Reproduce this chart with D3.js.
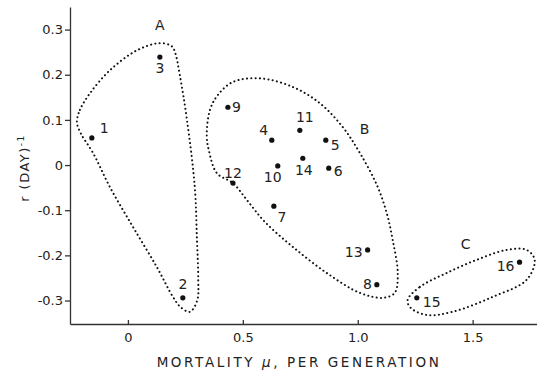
<!DOCTYPE html>
<html><head><meta charset="utf-8">
<script src="https://cdn.jsdelivr.net/npm/d3@7"></script>
<style>body{margin:0;background:#fff}svg{display:block}text{font-family:"DejaVu Sans",sans-serif;fill:#222}</style>
</head><body><svg id="c" width="537" height="371"></svg>
<script>
// Data: mortality μ per generation, r (day)^-1
const ids = ["1","2","3","4","5","6","7","8","9","10","11","12","13","14","15","16"];
const mu  = [-0.157,0.239,0.139,0.626,0.861,0.874,0.635,1.083,0.435,0.652,0.748,0.457,1.043,0.761,1.257,1.704];
const rr  = [0.060,-0.294,0.239,0.055,0.055,-0.007,-0.091,-0.265,0.128,-0.002,0.077,-0.040,-0.188,0.015,-0.294,-0.215];
const xTicks = [0,0.5,1.0,1.5];
const xTickLabels = ["0","0.5","1.0","1.5"];
const yTicks = [0.3,0.2,0.1,0,-0.1,-0.2,-0.3];
const yTickLabels = ["0.3","0.2","0.1","0","-0.1","-0.2","-0.3"];
const groupNames = ["A","B","C"];
// group outlines (μ, r)
const groupA = [[-0.222,0.095],[-0.209,0.122],[-0.165,0.159],[-0.078,0.210],[0.039,0.254],[0.139,0.270],[0.191,0.263],[0.206,0.248],[0.226,0.199],[0.257,0.100],[0.291,-0.049],[0.300,-0.159],[0.306,-0.254],[0.302,-0.299],[0.270,-0.325],[0.230,-0.315],[0.196,-0.292],[0.126,-0.226],[0.022,-0.137],[-0.078,-0.049],[-0.152,0.027],[-0.205,0.070]];
const groupB = [[0.343,0.066],[0.357,0.122],[0.391,0.155],[0.457,0.184],[0.574,0.192],[0.717,0.173],[0.835,0.137],[0.935,0.084],[1.009,0.027],[1.083,-0.044],[1.126,-0.106],[1.152,-0.166],[1.174,-0.239],[1.161,-0.283],[1.109,-0.294],[1.009,-0.283],[0.865,-0.239],[0.717,-0.181],[0.596,-0.126],[0.517,-0.077],[0.457,-0.040],[0.387,-0.018],[0.352,0.033]];
const groupC = [[1.217,-0.299],[1.270,-0.270],[1.387,-0.239],[1.517,-0.210],[1.648,-0.188],[1.735,-0.188],[1.770,-0.210],[1.735,-0.254],[1.587,-0.292],[1.413,-0.325],[1.300,-0.332],[1.230,-0.316]];
const groupLabelPos = [[0.139,0.300],[1.030,0.068],[1.470,-0.187]];
// point label offsets in px (dx, dy) and anchors
const lblOff = {"1":[8,-5,"start"],"2":[0,-9,"middle"],"3":[0,16,"middle"],"4":[-8,-5,"middle"],"5":[5,10,"start"],"6":[5,8,"start"],"7":[8,16,"middle"],"8":[-5,4,"end"],"9":[4,5,"start"],"10":[-5,16,"middle"],"11":[5,-8,"middle"],"12":[0,-5,"middle"],"13":[-5,7,"end"],"14":[1,17,"middle"],"15":[6,9,"start"],"16":[-5,9,"end"]};

const svg = d3.select("#c");
const x = d3.scaleLinear().domain([-0.252,1.78]).range([70,537]);
const y = d3.scaleLinear().domain([-0.352,0.35]).range([324,7]);

const xa = svg.append("g").attr("transform","translate(0,324)")
  .call(d3.axisBottom(x).tickValues(xTicks).tickFormat((d,i)=>xTickLabels[i]).tickSize(-4).tickSizeOuter(0).tickPadding(9));
const ya = svg.append("g").attr("transform","translate(70,0)")
  .call(d3.axisLeft(y).tickValues(yTicks).tickFormat((d,i)=>yTickLabels[i]).tickSize(5).tickSizeOuter(0).tickPadding(2));
[xa,ya].forEach(g=>{g.selectAll("path,line").attr("stroke","#333").attr("stroke-width",1.3);
  g.selectAll("text").attr("font-size",13).attr("fill","#333").style("font-family","'DejaVu Sans',sans-serif");});

const line = d3.line().x(d=>x(d[0])).y(d=>y(d[1])).curve(d3.curveCatmullRomClosed.alpha(0.5));
[groupA,groupB,groupC].forEach(g=>{
  svg.append("path").attr("d",line(g)).attr("fill","none").attr("stroke","#111")
    .attr("stroke-width",2).attr("stroke-linecap","round").attr("stroke-dasharray","0.1 4.2");
});
groupNames.forEach((n,i)=>svg.append("text").attr("x",x(groupLabelPos[i][0])).attr("y",y(groupLabelPos[i][1]))
  .attr("text-anchor","middle").attr("font-size",14).text(n));

svg.selectAll("circle.pt").data(ids).enter().append("circle")
  .attr("cx",(d,i)=>x(mu[i])).attr("cy",(d,i)=>y(rr[i])).attr("r",2.6).attr("fill","#111");
svg.selectAll("text.pl").data(ids).enter().append("text")
  .attr("x",(d,i)=>x(mu[i])+lblOff[d][0]).attr("y",(d,i)=>y(rr[i])+lblOff[d][1])
  .attr("text-anchor",d=>lblOff[d][2]).attr("font-size",14).text(d=>d);

svg.append("text").attr("x",299).attr("y",367).attr("text-anchor","middle").attr("font-size",13.5)
  .attr("letter-spacing",2.6).attr("fill","#333").html('MORTALITY <tspan font-style="italic">μ</tspan>, PER GENERATION');
svg.append("text").attr("transform","translate(29,168) rotate(-90)").attr("text-anchor","middle")
  .attr("font-size",13).attr("letter-spacing",1.5).attr("fill","#333")
  .html('r (DAY)<tspan dy="-5" font-size="9">-1</tspan>');
</script></body></html>
